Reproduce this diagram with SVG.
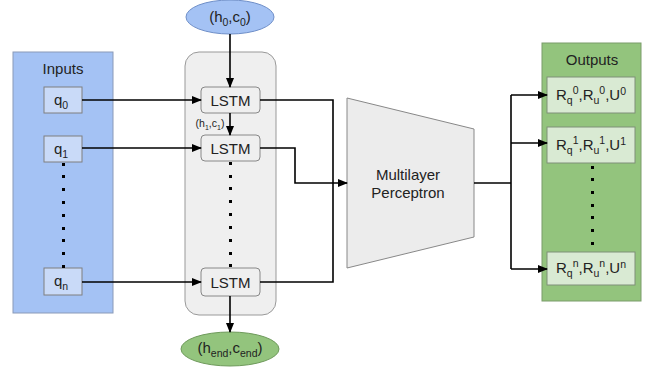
<svg xmlns="http://www.w3.org/2000/svg" width="656" height="375" viewBox="0 0 656 375">
<style>
text{font-family:"Liberation Sans",Arial,sans-serif;fill:#222;}
.lbl{font-size:15px;}
.sm{font-size:10.5px;}
.conn{fill:none;stroke:#000;stroke-width:1.6;}
.dot{fill:#000;}
.inbox{fill:#c9daf8;stroke:#7f7f7f;stroke-width:1;}
.outbox{fill:#d9ead3;stroke:#7f8f78;stroke-width:1;}
.lstm{fill:#efefef;stroke:#888;stroke-width:1;}
</style>
<defs>
<marker id="ah" markerWidth="10" markerHeight="8" refX="9" refY="4" orient="auto" markerUnits="userSpaceOnUse">
<path d="M0,0 L10,4 L0,8 Z" fill="#000"/>
</marker>
</defs>

<g id="inputs">
<rect x="13" y="52" width="100" height="261" fill="#a4c2f4" stroke="#8a9ab8" stroke-width="1"/>
<text x="63" y="74" class="lbl" text-anchor="middle">Inputs</text>
</g>
<g id="q0">
<rect class="inbox" x="44" y="87" width="38" height="26"/>
<text x="61" y="105" class="lbl" text-anchor="middle">q<tspan class="sm" dy="4">0</tspan></text>
</g>
<g id="q1">
<rect class="inbox" x="44" y="136" width="38" height="26"/>
<text x="61" y="154" class="lbl" text-anchor="middle">q<tspan class="sm" dy="4">1</tspan></text>
</g>
<g id="qn">
<rect class="inbox" x="44" y="268" width="38" height="27"/>
<text x="61" y="286" class="lbl" text-anchor="middle">q<tspan class="sm" dy="4">n</tspan></text>
</g>
<g id="input-dots" class="dot">
<rect x="62" y="163" width="3" height="3"/><rect x="62" y="175" width="3" height="3"/><rect x="62" y="188" width="3" height="3"/>
<rect x="62" y="201" width="3" height="3"/><rect x="62" y="214" width="3" height="3"/><rect x="62" y="227" width="3" height="3"/>
<rect x="62" y="239" width="3" height="3"/><rect x="62" y="252" width="3" height="3"/><rect x="62" y="265" width="3" height="3"/>
</g>

<g id="lstm-panel">
<rect x="185" y="52" width="91" height="263" rx="14" fill="#efefef" stroke="#999" stroke-width="1"/>
</g>
<g id="h0c0">
<ellipse cx="230" cy="17" rx="44" ry="17" fill="#a4c2f4" stroke="#6f8fc8" stroke-width="1"/>
<text x="230" y="22" class="lbl" text-anchor="middle">(h<tspan class="sm" dy="4">0</tspan><tspan dy="-4">,c</tspan><tspan class="sm" dy="4">0</tspan><tspan dy="-4">)</tspan></text>
</g>
<g id="lstm1">
<rect class="lstm" x="201" y="87" width="59" height="26" rx="4"/>
<text x="230.5" y="105.5" class="lbl" text-anchor="middle">LSTM</text>
</g>
<g id="lstm2">
<rect class="lstm" x="201" y="135" width="59" height="26" rx="4"/>
<text x="230.5" y="153.5" class="lbl" text-anchor="middle">LSTM</text>
</g>
<g id="lstmn">
<rect class="lstm" x="201" y="268" width="59" height="28" rx="4"/>
<text x="230.5" y="287.5" class="lbl" text-anchor="middle">LSTM</text>
</g>
<g id="h1c1">
<text x="210" y="127" class="sm" text-anchor="middle">(h<tspan font-size="7" dy="3">1</tspan><tspan dy="-3">,c</tspan><tspan font-size="7" dy="3">1</tspan><tspan dy="-3">)</tspan></text>
</g>
<g id="lstm-dots" class="dot">
<rect x="229" y="162" width="3" height="3"/><rect x="229" y="175" width="3" height="3"/><rect x="229" y="187" width="3" height="3"/>
<rect x="229" y="200" width="3" height="3"/><rect x="229" y="213" width="3" height="3"/><rect x="229" y="226" width="3" height="3"/>
<rect x="229" y="239" width="3" height="3"/><rect x="229" y="252" width="3" height="3"/><rect x="229" y="264" width="3" height="3"/>
</g>
<g id="hend">
<ellipse cx="230" cy="349" rx="49" ry="17" fill="#93c47d" stroke="#6f9a5c" stroke-width="1"/>
<text x="230" y="353" class="lbl" text-anchor="middle">(h<tspan class="sm" dy="4">end</tspan><tspan dy="-4">,c</tspan><tspan class="sm" dy="4">end</tspan><tspan dy="-4">)</tspan></text>
</g>

<g id="mlp">
<polygon points="347,98 474,129 474,237 347,268" fill="#ececec" stroke="#888" stroke-width="1"/>
<text x="408" y="180" class="lbl" text-anchor="middle">Multilayer</text>
<text x="408" y="198" class="lbl" text-anchor="middle">Perceptron</text>
</g>

<g id="outputs">
<rect x="542" y="43" width="99" height="258" fill="#93c47d" stroke="#7a9c6a" stroke-width="1"/>
<text x="592" y="65" class="lbl" text-anchor="middle">Outputs</text>
</g>
<g id="out0">
<rect class="outbox" x="547" y="77" width="88" height="36"/>
<text x="591" y="100" class="lbl" text-anchor="middle">R<tspan class="sm" dy="4">q</tspan><tspan class="sm" dy="-10">0</tspan><tspan dy="6">,R</tspan><tspan class="sm" dy="4">u</tspan><tspan class="sm" dy="-10">0</tspan><tspan dy="6">,U</tspan><tspan class="sm" dy="-5">0</tspan></text>
</g>
<g id="out1">
<rect class="outbox" x="547" y="127" width="88" height="36"/>
<text x="591" y="150" class="lbl" text-anchor="middle">R<tspan class="sm" dy="4">q</tspan><tspan class="sm" dy="-10">1</tspan><tspan dy="6">,R</tspan><tspan class="sm" dy="4">u</tspan><tspan class="sm" dy="-10">1</tspan><tspan dy="6">,U</tspan><tspan class="sm" dy="-5">1</tspan></text>
</g>
<g id="outn">
<rect class="outbox" x="547" y="252" width="88" height="33"/>
<text x="591" y="273" class="lbl" text-anchor="middle">R<tspan class="sm" dy="4">q</tspan><tspan class="sm" dy="-10">n</tspan><tspan dy="6">,R</tspan><tspan class="sm" dy="4">u</tspan><tspan class="sm" dy="-10">n</tspan><tspan dy="6">,U</tspan><tspan class="sm" dy="-5">n</tspan></text>
</g>
<g id="output-dots" class="dot">
<rect x="591" y="166" width="3" height="3"/><rect x="591" y="178" width="3" height="3"/><rect x="591" y="191" width="3" height="3"/>
<rect x="591" y="204" width="3" height="3"/><rect x="591" y="216" width="3" height="3"/><rect x="591" y="229" width="3" height="3"/>
<rect x="591" y="242" width="3" height="3"/>
</g>

<g id="connectors">
<path class="conn" d="M82,100 H201" marker-end="url(#ah)"/>
<path class="conn" d="M82,148 H201" marker-end="url(#ah)"/>
<path class="conn" d="M82,282 H201" marker-end="url(#ah)"/>
<path class="conn" d="M230,34 V87" marker-end="url(#ah)"/>
<path class="conn" d="M230,113 V135" marker-end="url(#ah)"/>
<path class="conn" d="M230,296 V332" marker-end="url(#ah)"/>
<path class="conn" d="M260,100 H333 V282 H260"/>
<path class="conn" d="M260,148 H295 V183 H347" marker-end="url(#ah)"/>
<path class="conn" d="M474,183 H511"/>
<path class="conn" d="M511,95 V269"/>
<path class="conn" d="M511,95 H547" marker-end="url(#ah)"/>
<path class="conn" d="M511,143 H547" marker-end="url(#ah)"/>
<path class="conn" d="M511,269 H547" marker-end="url(#ah)"/>
</g>
</svg>
